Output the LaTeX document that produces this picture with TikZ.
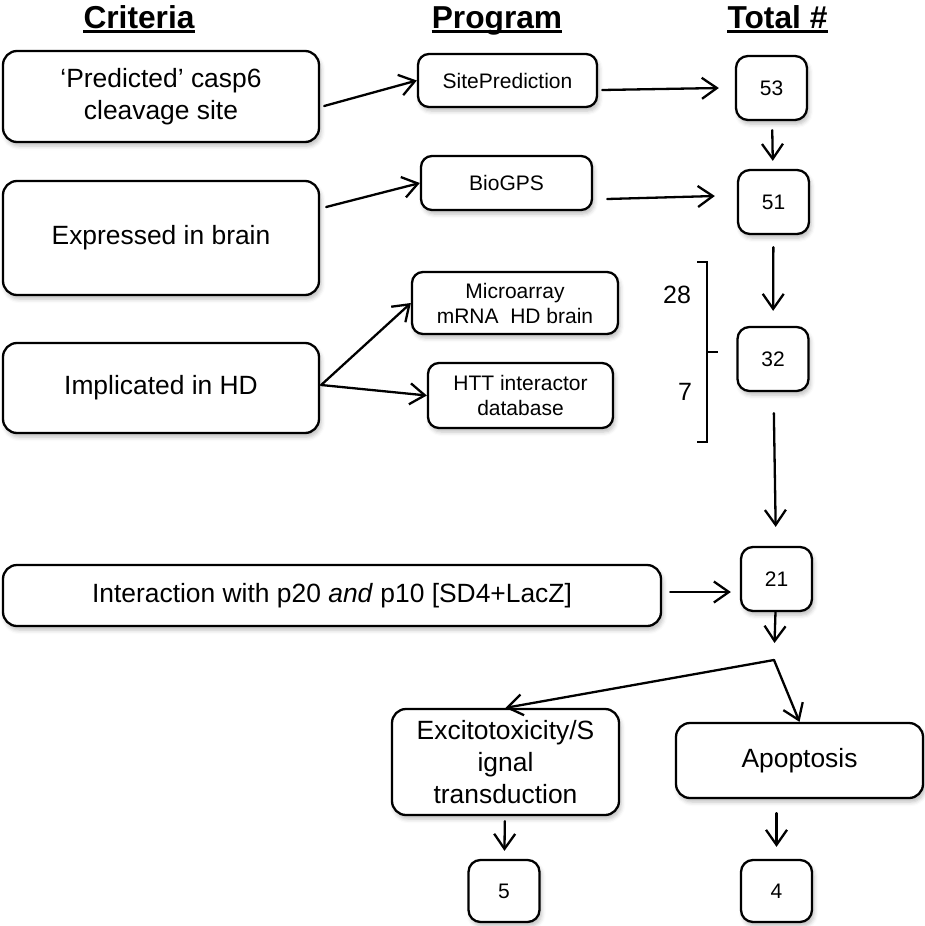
\documentclass[tikz,border=0pt]{standalone}
\usepackage{fontspec}
\setmainfont{Liberation Sans}
\usepackage{tikz}
\usetikzlibrary{arrows.meta,positioning,shadows.blur}

\begin{document}
\begin{tikzpicture}[x=1pt, y=-1pt,
  rbox/.style={draw, rectangle, rounded corners=14pt, line width=2.3pt, fill=white,
    align=center, inner sep=0pt,
    blur shadow={shadow xshift=2pt, shadow yshift=-4pt, shadow blur radius=4pt, shadow opacity=25}},
  critbox/.style={rbox, minimum width=316pt, font=\fontsize{26.4}{32}\selectfont},
  progbox/.style={rbox, rounded corners=11pt, font=\fontsize{21}{25}\selectfont},
  numbox/.style={rbox, rounded corners=12pt, minimum width=71pt, minimum height=64pt,
    font=\fontsize{21}{25}\selectfont},
  hdr/.style={font=\fontsize{31.7}{36}\selectfont\bfseries, inner sep=0pt, anchor=base},
  arr/.style={-{Straight Barb[length=15pt,width=21pt]}, line width=2.3pt, line cap=round}]

\useasboundingbox (0,0) rectangle (924,926);

% column headers
\node[hdr] (hcrit) at (139,28) {Criteria};
\node[hdr] (hprog) at (497,28) {Program};
\node[hdr] (htot) at (777.5,28) {Total \#};
\foreach \h in {hcrit,hprog,htot}
  \draw[line width=2.8pt] ([yshift=-3.5pt]\h.base west) -- ([yshift=-3.5pt]\h.base east);

% criteria
\node[critbox, minimum height=91pt] (c1) at (161,96.5) {‘Predicted’ casp6\\cleavage site};
\node[critbox, minimum height=114pt] (c2) at (161,238) {Expressed in brain};
\node[critbox, minimum height=90pt] (c3) at (161,388) {Implicated in HD};
\node[critbox, minimum width=658pt, minimum height=61pt] (c4) at (332,595.5)
  {Interaction with p20 \textit{and} p10 [SD4+LacZ]};

% programs
\node[progbox, minimum width=179pt, minimum height=53pt] (p1) at (507.5,80.5) {SitePrediction};
\node[progbox, minimum width=171pt, minimum height=54pt] (p2) at (506.5,183) {BioGPS};
\node[progbox, minimum width=206pt, minimum height=62pt] (p3) at (515,303) {Microarray\\mRNA\ \ HD brain};
\node[progbox, minimum width=185pt, minimum height=65pt] (p4) at (520.5,395.5) {HTT interactor\\database};

% totals
\node[numbox] (n53) at (771.5,88) {53};
\node[numbox] (n51) at (773.5,202) {51};
\node[numbox] (n32) at (773,359) {32};
\node[numbox] (n21) at (776.5,579) {21};
\node[numbox, minimum height=62pt] (n5) at (504,891) {5};
\node[numbox, minimum height=62pt] (n4) at (776.5,891) {4};

% outcomes
\node[critbox, minimum width=227pt, minimum height=106pt] (exc) at (505.5,762)
  {Excitotoxicity/S\\ignal\\transduction};
\node[critbox, minimum width=247pt, minimum height=75pt] (apo) at (799.5,760.5) {Apoptosis};

% bracket with counts
\coordinate (bt) at (707,262);
\coordinate (bb) at (707,442);
\draw[line width=2.3pt] ([xshift=-10pt]bt) -- (bt) -- (bb) -- ([xshift=-10pt]bb);
\draw[line width=2.3pt] (707,352) -- (718,352);
\node[font=\fontsize{25}{30}\selectfont] (k28) at (677,295) {28};
\node[font=\fontsize{25}{30}\selectfont] (k7) at (685,392) {7};

% arrows
\draw[arr] ([xshift=4pt,yshift=-9.5pt]c1.east) -- (p1.west);
\draw[arr] ([xshift=6pt,yshift=31pt]c2.east) -- (p2.west);
\draw[arr] ([xshift=1pt,yshift=3pt]c3.east) -- (p3.west);
\draw[arr] ([xshift=1pt,yshift=3pt]c3.east) -- (p4.west);
\draw[arr] ([xshift=4pt,yshift=-9.5pt]p1.east) -- ([xshift=-16pt]n53.west);
\draw[arr] ([xshift=14pt,yshift=-16pt]p2.east) -- ([xshift=-22pt,yshift=6pt]n51.west);
\draw[arr, shorten <=9pt, shorten >=8pt] (n53) -- (n51);
\draw[arr, shorten <=12pt, shorten >=15pt] (n51) -- (n32);
\draw[arr, shorten <=21pt, shorten >=19pt] (n32) -- (n21);
\draw[arr] ([xshift=8pt,yshift=3.5pt]c4.east) -- ([xshift=-9pt,yshift=-13pt]n21.west);
\coordinate (split) at (774,660);
\draw[arr, shorten >=17pt] (n21) -- (split);
\draw[arr] (split) -- (exc.north);
\draw[arr] (split) -- (apo.north);
\draw[arr, shorten <=5pt, shorten >=8pt] (exc) -- (n5);
\draw[arr, shorten <=14pt, shorten >=12pt] (n4.north |- apo.south) -- (n4.north);
\end{tikzpicture}
\end{document}
